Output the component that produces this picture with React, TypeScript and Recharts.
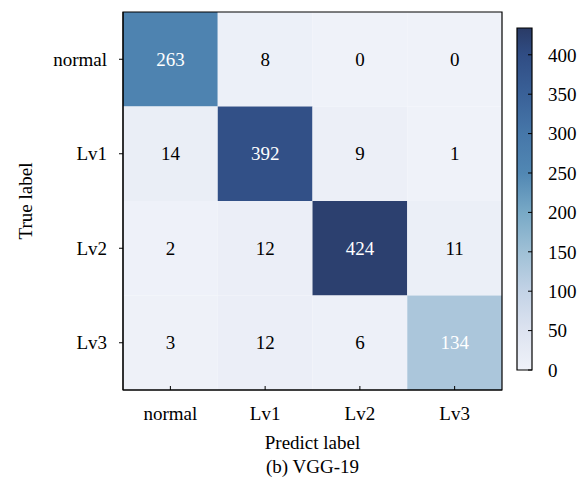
import React from 'react';
import { ScatterChart, Scatter, XAxis, YAxis, ReferenceArea } from 'recharts';

const LABELS = ['normal', 'Lv1', 'Lv2', 'Lv3'];
const ROW_NORMAL = [263, 8, 0, 0];
const ROW_LV1 = [14, 392, 9, 1];
const ROW_LV2 = [2, 12, 424, 11];
const ROW_LV3 = [3, 12, 6, 134];
const ROWS = [ROW_NORMAL, ROW_LV1, ROW_LV2, ROW_LV3];

const CBAR_TICKS = [0, 50, 100, 150, 200, 250, 300, 350, 400];
const CBAR_MAX = 434;
const CMAP_VALUES = [0, 50, 100, 150, 200, 250, 300, 350, 400, 434];
const CMAP_COLORS = ['#eff2f9', '#dde3f0', '#c3d3e6', '#9fc0d6', '#78a9c6', '#5187b3', '#4677a9', '#3a6198', '#304d84', '#2a3b66'];

const FONT = "'Liberation Serif', 'Times New Roman', serif";
const FS = 19;

const hexToRgb = (h: string) => [1, 3, 5].map(i => parseInt(h.slice(i, i + 2), 16));

const colorFor = (v: number) => {
  let i = 0;
  while (i < CMAP_VALUES.length - 2 && v > CMAP_VALUES[i + 1]) i++;
  const t = Math.max(0, Math.min(1, (v - CMAP_VALUES[i]) / (CMAP_VALUES[i + 1] - CMAP_VALUES[i])));
  const a = hexToRgb(CMAP_COLORS[i]);
  const b = hexToRgb(CMAP_COLORS[i + 1]);
  const c = a.map((x, k) => Math.round(x + (b[k] - x) * t));
  return `rgb(${c[0]},${c[1]},${c[2]})`;
};

const cells = ROWS.flatMap((row, r) => row.map((value, c) => ({ x: c, y: r, value })));
// two corners of the colour bar, only so the chart has something to scale
const cbarEnds = [{ x: 0, y: 0 }, { x: 1, y: CBAR_MAX }];

const CellText = (props: any) => {
  const { cx, cy, payload } = props;
  return (
    <text x={cx} y={cy} dy="0.35em" textAnchor="middle" fontSize={FS} fontFamily={FONT}
      fill={payload.value > 100 ? '#fff' : '#000'}>
      {payload.value}
    </text>
  );
};

const XTitle = (props: any) => {
  const { x, y, width } = props.viewBox;
  return (
    <g fontFamily={FONT} fontSize={FS} fill="#000">
      <text x={x + width / 2} y={y + 59} textAnchor="middle">Predict label</text>
      <text x={x + width / 2} y={y + 83} textAnchor="middle">(b) VGG-19</text>
    </g>
  );
};

const YTitle = (props: any) => {
  const { y, height } = props.viewBox;
  const cy = y + height / 2;
  return (
    <text x={32} y={cy} transform={`rotate(-90, 32, ${cy})`} textAnchor="middle"
      fontFamily={FONT} fontSize={FS} fill="#000">
      True label
    </text>
  );
};

const tickStyle = { fill: '#000', fontSize: FS, fontFamily: FONT };

export default function App() {
  return (
    <div style={{ position: 'absolute', left: 0, top: 0, width: 587, height: 478, background: '#fff' }}>
      <div style={{ position: 'absolute', left: 0, top: 0 }}>
        <ScatterChart width={587} height={478} margin={{ top: 12, right: 85, bottom: 0, left: 0 }}>
          <XAxis type="number" dataKey="x" domain={[-0.5, 3.5]} ticks={[0, 1, 2, 3]} interval={0}
            tickFormatter={(i: number) => LABELS[i]} height={88} tickSize={-4} tickMargin={21}
            axisLine={{ stroke: '#000' }} tickLine={{ stroke: '#000' }} tick={tickStyle}
            label={{ content: XTitle }} allowDataOverflow />
          <YAxis type="number" dataKey="y" domain={[-0.5, 3.5]} reversed ticks={[0, 1, 2, 3]} interval={0}
            tickFormatter={(i: number) => LABELS[i]} width={123} tickSize={4} tickMargin={12}
            axisLine={{ stroke: '#000' }} tickLine={{ stroke: '#000' }} tick={tickStyle}
            label={{ content: YTitle }} allowDataOverflow />
          {cells.map(c => (
            <ReferenceArea key={`${c.x}-${c.y}`} x1={c.x - 0.5} x2={c.x + 0.5} y1={c.y - 0.5} y2={c.y + 0.5}
              fill={colorFor(c.value)} fillOpacity={1} stroke="none" ifOverflow="visible" />
          ))}
          <ReferenceArea x1={-0.5} x2={3.5} y1={-0.5} y2={3.5} fill="none" stroke="#000" strokeWidth={1.2}
            ifOverflow="visible" />
          <Scatter data={cells} isAnimationActive={false} shape={CellText} />
        </ScatterChart>
      </div>
      <div style={{ position: 'absolute', left: 0, top: 0 }}>
        <ScatterChart width={587} height={478} margin={{ top: 28, right: 0, bottom: 108, left: 517 }}>
          <defs>
            <linearGradient id="cbar" x1="0" y1="1" x2="0" y2="0">
              {CMAP_VALUES.map((v, i) => (
                <stop key={v} offset={v / CBAR_MAX} stopColor={CMAP_COLORS[i]} />
              ))}
            </linearGradient>
          </defs>
          <XAxis type="number" dataKey="x" hide domain={[0, 1]} />
          <YAxis type="number" dataKey="y" orientation="right" domain={[0, CBAR_MAX]} ticks={CBAR_TICKS}
            width={55} tickSize={-4} tickMargin={20} axisLine={false} tickLine={{ stroke: '#000' }}
            tick={tickStyle} interval={0} />
          <ReferenceArea x1={0} x2={1} y1={0} y2={CBAR_MAX} fill="url(#cbar)" fillOpacity={1}
            stroke="#000" strokeWidth={1.2} ifOverflow="visible" />
          <Scatter data={cbarEnds} isAnimationActive={false} shape={() => <g />} />
        </ScatterChart>
      </div>
    </div>
  );
}
